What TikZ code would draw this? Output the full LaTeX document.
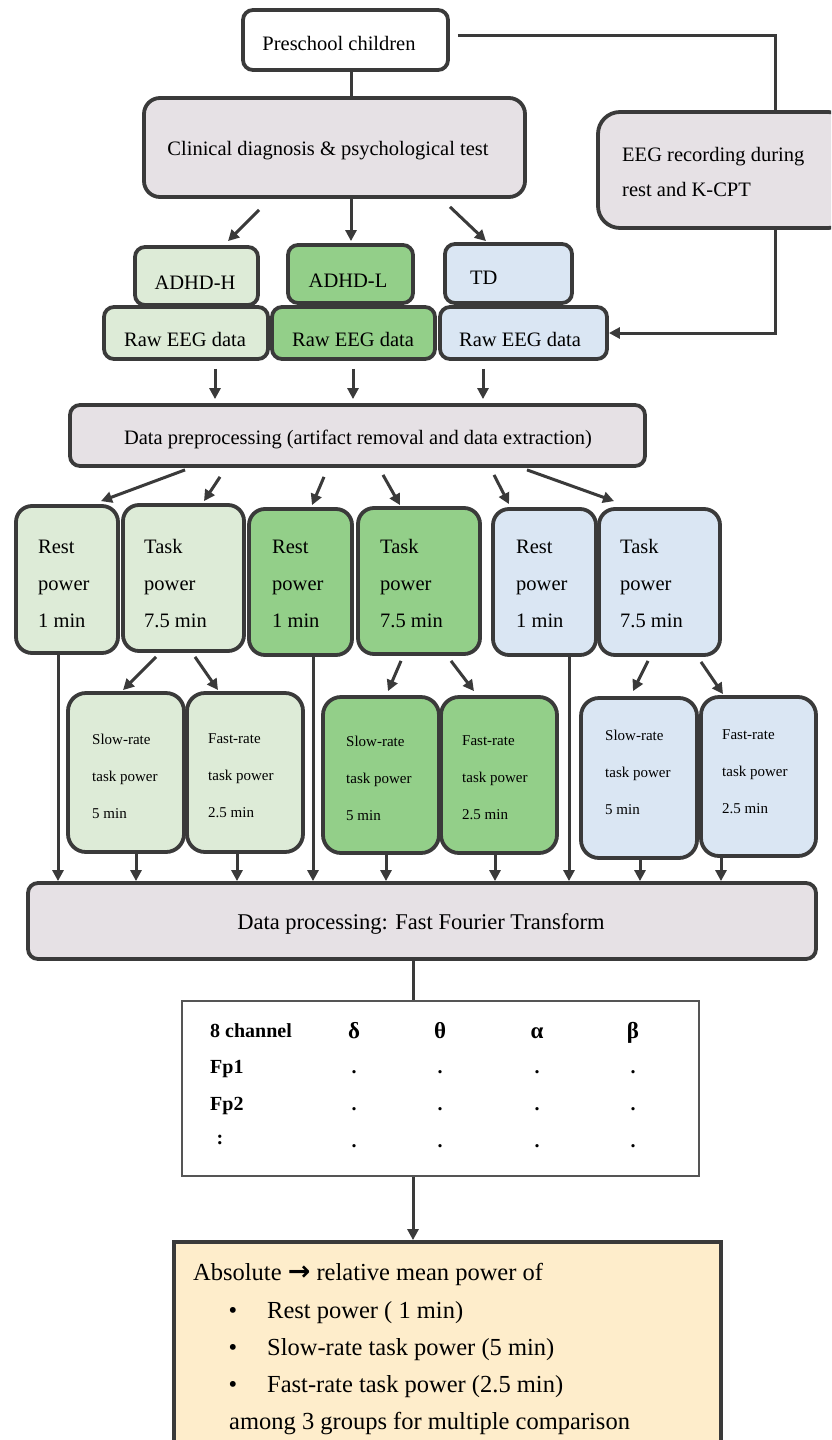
\documentclass[tikz,border=0pt]{standalone}
\usepackage{fontspec}
\setmainfont{Liberation Serif}
\newfontfamily\dejavu{DejaVu Sans}
\usetikzlibrary{arrows.meta,calc}
\definecolor{edge}{HTML}{3A3A3A}
\definecolor{grayf}{HTML}{E6E1E5}
\definecolor{lgreen}{HTML}{DDEBD7}
\definecolor{mgreen}{HTML}{93CF89}
\definecolor{lblue}{HTML}{DAE6F3}
\definecolor{resf}{HTML}{FEEDCB}
\definecolor{tabedge}{HTML}{555555}
\newcommand\mkbox[6]{\node[#1, minimum width={(#5)-(#3)}, minimum height={(#6)-(#4)}] (#2) at ({((#3)+(#5))/2},{((#4)+(#6))/2}) {};}
\newcommand\vlink[4]{\path ($(#2)+(#3,0)$) coordinate (tmp); \draw[#1] (tmp) -- (tmp |- #4);}
\tikzset{
  box/.style={draw=edge, line width=3.8pt, rounded corners=12pt, inner sep=0pt},
  arr/.style={draw=edge, line width=3pt, -{Triangle[length=11pt,width=11pt]}},
  ln/.style={draw=edge, line width=3pt},
  txt/.style={inner sep=0pt, font=\fontsize{20.5}{37}\selectfont, align=left, text=black},
  small/.style={inner sep=0pt, font=\fontsize{15}{37}\selectfont, align=left, text=black},
  tb/.style={inner sep=0pt, font=\fontsize{20}{24}\selectfont\bfseries, text=black},
  big/.style={inner sep=0pt, font=\fontsize{24.5}{30}\selectfont, text=black},
}
\begin{document}
\begin{tikzpicture}[x=1pt,y=-1pt]
\useasboundingbox (0,0) rectangle (831,1440);
\clip (0,0) rectangle (831,1440);
\fill[white] (0,0) rectangle (831,1440);
% boxes
\mkbox{box, fill=white, rounded corners=10pt}{pre}{243}{10}{448}{70}
\mkbox{box, fill=grayf, rounded corners=16pt}{clin}{144}{98}{525}{197}
\mkbox{box, fill=grayf, rounded corners=22pt}{eeg}{598}{112}{850}{228}
\mkbox{box, fill=lgreen, rounded corners=10pt}{gH}{135}{247}{258}{305}
\mkbox{box, fill=mgreen, rounded corners=10pt}{gL}{288}{245}{413}{303}
\mkbox{box, fill=lblue, rounded corners=10pt}{gT}{445}{244}{572}{303}
\mkbox{box, fill=lgreen, rounded corners=10pt}{rawH}{104}{307}{268}{359}
\mkbox{box, fill=mgreen, rounded corners=10pt}{rawL}{272}{307}{435}{359}
\mkbox{box, fill=lblue, rounded corners=10pt}{rawT}{440}{307}{607}{359}
\mkbox{box, fill=grayf, rounded corners=10pt}{prep}{70}{405}{645}{466}
\mkbox{box, fill=lgreen, rounded corners=16pt}{r1}{16}{506}{118}{653}
\mkbox{box, fill=lgreen, rounded corners=16pt}{t1}{123}{505}{244}{651}
\mkbox{box, fill=mgreen, rounded corners=16pt}{r2}{249}{509}{352}{655}
\mkbox{box, fill=mgreen, rounded corners=16pt}{t2}{358}{508}{480}{654}
\mkbox{box, fill=lblue, rounded corners=16pt}{r3}{493}{509}{596}{655}
\mkbox{box, fill=lblue, rounded corners=16pt}{t3}{599}{509}{720}{655}
\mkbox{box, fill=lgreen, rounded corners=18pt}{s1}{68}{693}{184}{852}
\mkbox{box, fill=lgreen, rounded corners=18pt}{f1}{187}{693}{303}{852}
\mkbox{box, fill=mgreen, rounded corners=18pt}{s2}{323}{697}{439}{853}
\mkbox{box, fill=mgreen, rounded corners=18pt}{f2}{441}{697}{557}{853}
\mkbox{box, fill=lblue, rounded corners=18pt}{s3}{581}{698}{697}{858}
\mkbox{box, fill=lblue, rounded corners=18pt}{f3}{701}{697}{816}{856}
\mkbox{box, fill=grayf, rounded corners=10pt}{fft}{28}{883}{816}{959}
\mkbox{box, fill=white, draw=tabedge, line width=2.5pt, rounded corners=0pt}{tab}{182}{1001}{699}{1176}
\mkbox{box, fill=resf, rounded corners=0pt}{res}{174}{1242}{721}{1470}
% texts
\node[txt, anchor=base] (tpre) at (339,50) {Preschool children};
\node[txt, anchor=base] (tclin) at (328,155) {Clinical diagnosis \& psychological test};
\node[txt, anchor=base west] (teeg1) at (622,161) {EEG recording during};
\node[txt, anchor=base west] (teeg2) at (622,196) {rest and K-CPT};
\node[txt, anchor=base] (tgH) at (195,289) {ADHD-H};
\node[txt, anchor=base] (tgL) at (348,287) {ADHD-L};
\node[txt, anchor=base west] (tgT) at (470,284) {TD};
\node[txt, anchor=base] (trH) at (185,346) {Raw EEG data};
\node[txt, anchor=base] (trL) at (353,346) {Raw EEG data};
\node[txt, anchor=base] (trT) at (520,346) {Raw EEG data};
\node[txt, anchor=base] (tprep) at (358,444) {Data preprocessing (artifact removal and data extraction)};
\node[txt, anchor=west] (tr1) at (38,584) {Rest\\power\\1 min};
\node[txt, anchor=west] (tt1) at (144,584) {Task\\power\\7.5 min};
\node[txt, anchor=west] (tr2) at (272,584) {Rest\\power\\1 min};
\node[txt, anchor=west] (tt2) at (380,584) {Task\\power\\7.5 min};
\node[txt, anchor=west] (tr3) at (516,584) {Rest\\power\\1 min};
\node[txt, anchor=west] (tt3) at (620,584) {Task\\power\\7.5 min};
\node[small, anchor=west] (ts1) at (92,776) {Slow-rate\\task power\\5 min};
\node[small, anchor=west] (tf1) at (208,776) {Fast-rate\\task power\\2.5 min};
\node[small, anchor=west] (ts2) at (346,778) {Slow-rate\\task power\\5 min};
\node[small, anchor=west] (tf2) at (462,778) {Fast-rate\\task power\\2.5 min};
\node[small, anchor=west] (ts3) at (605,772) {Slow-rate\\task power\\5 min};
\node[small, anchor=west] (tf3) at (722,772) {Fast-rate\\task power\\2.5 min};
\node[txt, anchor=base, font=\fontsize{22.5}{27}\selectfont] (tfft) at (421,929) {Data processing: Fast Fourier Transform};
% table
\node[tb, anchor=base west] (h0) at (210,1037) {8 channel};
\node[tb, anchor=base, font=\fontsize{23}{24}\selectfont\bfseries] (h1) at (354,1038) {δ};
\node[tb, anchor=base, font=\fontsize{23}{24}\selectfont\bfseries] (h2) at (440,1038) {θ};
\node[tb, anchor=base, font=\fontsize{23}{24}\selectfont\bfseries] (h3) at (537,1038) {α};
\node[tb, anchor=base, font=\fontsize{23}{24}\selectfont\bfseries] (h4) at (633,1038) {β};
\node[tb, anchor=base west] (fp1) at (210,1073) {Fp1};
\node[tb, anchor=base west] (fp2) at (210,1110) {Fp2};
\node[tb, anchor=base] (fp3) at (220,1144) {:};
\foreach \x in {354,440,537,633}{
  \foreach \y/\n in {1073/a,1110/b,1147/c}{
    \node[tb, anchor=base] (d\n\x) at (\x,\y) {.};
  }
}
% result
\node[big, anchor=base west] (ra) at (193,1280) {Absolute {\dejavu\bfseries\fontsize{27}{30}\selectfont →} relative mean power of};
\node[big, anchor=base] (b1) at (233,1318) {•};
\node[big, anchor=base] (b2) at (233,1355) {•};
\node[big, anchor=base] (b3) at (233,1392) {•};
\node[big, anchor=base west] (rb) at (267,1318) {Rest power ( 1 min)};
\node[big, anchor=base west] (rc) at (267,1355) {Slow-rate task power (5 min)};
\node[big, anchor=base west] (rd) at (267,1392) {Fast-rate task power (2.5 min)};
\node[big, anchor=base west] (re) at (229,1429) {among 3 groups for multiple comparison};
% connectors
\coordinate (c1) at (775,35);
\coordinate (c2) at (775,333);
\draw[ln] ($(pre.east)+(8,-5)$) -- (c1) -- (c1 |- eeg.north);
\draw[arr] (eeg.south -| c1) -- (c2) -- (c2 -| rawT.east);
\draw[ln] ($(pre.south)+(5.5,0)$) -- ($(clin.north)+(16.5,0)$);
\draw[arr] ($(clin.south)+(-75.5,11)$) -- ($(gH.north)+(31.5,-4)$);
\draw[arr] ($(clin.south)+(16.5,0)$) -- ($(gL.north)+(0.5,-2)$);
\draw[arr] ($(clin.south)+(115.5,8)$) -- ($(gT.north)+(-22.5,-1)$);
\path ($(rawH.south)+(29,8)$) coordinate (a1);
\path ($(rawL.south)+(-0.5,8)$) coordinate (a2);
\path ($(rawT.south)+(-40.5,8)$) coordinate (a3);
\draw[arr, shorten >=4pt] (a1) -- (a1 |- prep.north);
\draw[arr, shorten >=4pt] (a2) -- (a2 |- prep.north);
\draw[arr, shorten >=4pt] (a3) -- (a3 |- prep.north);
\draw[arr] ($(prep.south)+(-172.5,2)$) -- ($(r1.north)+(34,-3)$);
\draw[arr] ($(prep.south)+(-137.5,9)$) -- ($(t1.north)+(20.5,-2)$);
\draw[arr] ($(prep.south)+(-33.5,9)$) -- ($(r2.north)+(11.5,-2)$);
\draw[arr] ($(prep.south)+(25.5,7)$) -- ($(t2.north)+(-19,-1)$);
\draw[arr] ($(prep.south)+(136.5,7)$) -- ($(r3.north)+(-35.5,-3)$);
\draw[arr] ($(prep.south)+(169.5,2)$) -- ($(t3.north)+(-45.5,-6)$);
\draw[arr] ($(t1.south)+(-27.5,4)$) -- ($(s1.north)+(-3,-1)$);
\draw[arr] ($(t1.south)+(11.5,4)$) -- ($(f1.north)+(-27,-1)$);
\draw[arr] ($(t2.south)+(-18,5)$) -- ($(s2.north)+(7,-4)$);
\draw[arr] ($(t2.south)+(32,5)$) -- ($(f2.north)+(-25,-4)$);
\draw[arr] ($(t3.south)+(-11.5,4)$) -- ($(s3.north)+(-6,-5)$);
\draw[arr] ($(t3.south)+(41.5,5)$) -- ($(f3.north)+(-35.5,-1)$);
\vlink{arr}{r1.south}{-9}{fft.north}
\vlink{arr}{r2.south}{12.5}{fft.north}
\vlink{arr}{r3.south}{24.5}{fft.north}
\vlink{arr}{s1.south}{10}{fft.north}
\vlink{arr}{f1.south}{-8}{fft.north}
\vlink{arr}{s2.south}{5}{fft.north}
\vlink{arr}{f2.south}{-4}{fft.north}
\vlink{arr}{s3.south}{1}{fft.north}
\vlink{arr}{f3.south}{-37.5}{fft.north}
\vlink{ln}{fft.south}{-9}{tab.north}
\vlink{arr}{tab.south}{-27.5}{res.north}
\end{tikzpicture}
\end{document}
